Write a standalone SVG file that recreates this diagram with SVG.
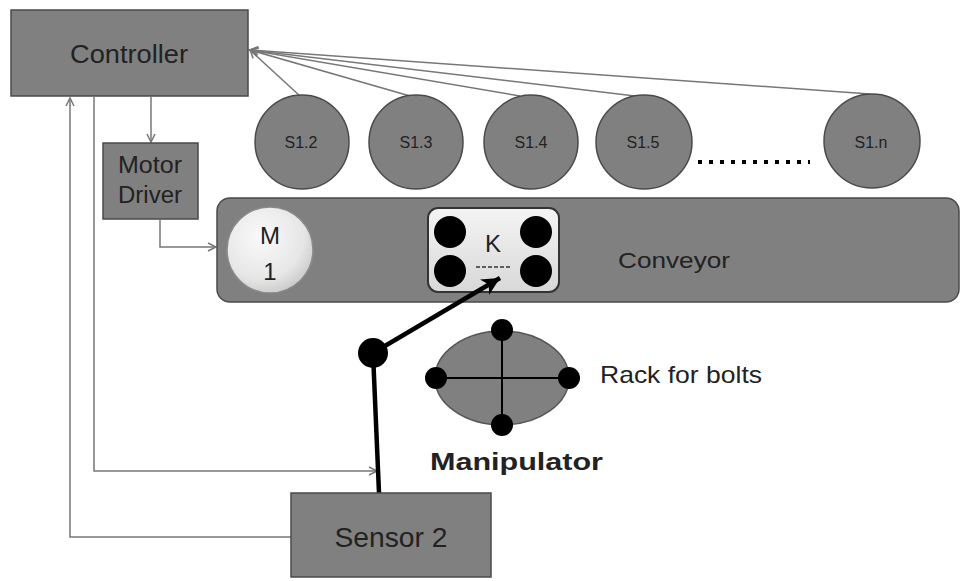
<svg xmlns="http://www.w3.org/2000/svg" width="961" height="581" viewBox="0 0 961 581">
<defs>
<marker id="open" markerWidth="12" markerHeight="12" refX="9" refY="5" orient="auto" markerUnits="userSpaceOnUse">
<path d="M1,1 L9,5 L1,9" fill="none" stroke="#777" stroke-width="1.5"/>
</marker>
<marker id="solid" markerWidth="22" markerHeight="20" refX="18" refY="9" orient="auto" markerUnits="userSpaceOnUse">
<path d="M0,0 L18,9 L0,18 L5,9 Z" fill="#000"/>
</marker>
<radialGradient id="mgrad" cx="0.4" cy="0.35" r="0.7">
<stop offset="0" stop-color="#fafafa"/>
<stop offset="0.7" stop-color="#e6e6e6"/>
<stop offset="1" stop-color="#c8c8c8"/>
</radialGradient>
<linearGradient id="kgrad" x1="0" y1="0" x2="0" y2="1">
<stop offset="0" stop-color="#f4f4f4"/>
<stop offset="1" stop-color="#d8d8d8"/>
</linearGradient>
</defs>
<style>
.box{fill:#808080;stroke:#4a4a4a;stroke-width:1.5}
.sen{fill:#808080;stroke:#4a4a4a;stroke-width:1.5}
.t{font-family:"Liberation Sans",Arial,sans-serif;fill:#222}
.conn{fill:none;stroke:#777;stroke-width:1.5}
.arm{fill:none;stroke:#000;stroke-width:4.5}
</style>
<rect width="961" height="581" fill="#fff"/>

<g id="connectors">
<path class="conn" d="M300,96 L250,50" marker-end="url(#open)"/>
<path class="conn" d="M410,96 L250,50" marker-end="url(#open)"/>
<path class="conn" d="M520,96 L250,50" marker-end="url(#open)"/>
<path class="conn" d="M635,96 L250,50" marker-end="url(#open)"/>
<path class="conn" d="M870,94 L250,50" marker-end="url(#open)"/>
<path class="conn" d="M151,97 L151,142" marker-end="url(#open)"/>
<path class="conn" d="M160,220 L160,247 L216,247" marker-end="url(#open)"/>
<path class="conn" d="M94,97 L94,471 L377,471" marker-end="url(#open)"/>
<path class="conn" d="M291,537 L70,537 L70,98" marker-end="url(#open)"/>
</g>

<g id="controller">
<rect class="box" x="11" y="10" width="237" height="86"/>
<text class="t" x="129" y="63" font-size="25" text-anchor="middle" textLength="118" lengthAdjust="spacingAndGlyphs">Controller</text>
</g>

<g id="motor-driver">
<rect class="box" x="103" y="143" width="95" height="76"/>
<text class="t" x="150" y="173" font-size="23" text-anchor="middle" textLength="64" lengthAdjust="spacingAndGlyphs">Motor</text>
<text class="t" x="150" y="203" font-size="23" text-anchor="middle" textLength="64" lengthAdjust="spacingAndGlyphs">Driver</text>
</g>

<g id="s1-2"><ellipse class="sen" cx="302" cy="142" rx="47" ry="47"/><text class="t" x="301" y="148" font-size="16" text-anchor="middle">S1.2</text></g>
<g id="s1-3"><ellipse class="sen" cx="416" cy="142" rx="47" ry="47"/><text class="t" x="416" y="148" font-size="16" text-anchor="middle">S1.3</text></g>
<g id="s1-4"><ellipse class="sen" cx="531" cy="142" rx="47" ry="47"/><text class="t" x="531" y="148" font-size="16" text-anchor="middle">S1.4</text></g>
<g id="s1-5"><ellipse class="sen" cx="644" cy="142" rx="48" ry="47"/><text class="t" x="643" y="148" font-size="16" text-anchor="middle">S1.5</text></g>
<g id="s1-n"><ellipse class="sen" cx="872" cy="141" rx="48" ry="47"/><text class="t" x="871" y="148" font-size="16" text-anchor="middle">S1.n</text></g>
<g id="ellipsis">
<line x1="698" y1="162" x2="810" y2="162" stroke="#000" stroke-width="4" stroke-dasharray="4,7"/>
</g>

<g id="conveyor">
<rect class="box" x="217" y="198" width="742" height="104" rx="13"/>
<text class="t" x="618" y="268" font-size="22" textLength="112" lengthAdjust="spacingAndGlyphs">Conveyor</text>
</g>

<g id="m1">
<circle cx="270" cy="250" r="43" fill="url(#mgrad)" stroke="#8a8a8a" stroke-width="1.5"/>
<text class="t" x="270" y="244" font-size="24" text-anchor="middle">M</text>
<text class="t" x="270" y="280" font-size="24" text-anchor="middle">1</text>
</g>

<g id="k">
<rect x="428" y="208" width="131" height="84" rx="10" fill="url(#kgrad)" stroke="#333" stroke-width="2"/>
<circle cx="450" cy="232" r="16" fill="#000"/>
<circle cx="536" cy="232" r="16" fill="#000"/>
<circle cx="450" cy="271" r="16" fill="#000"/>
<circle cx="536" cy="271" r="16" fill="#000"/>
<text class="t" x="493" y="252" font-size="24" text-anchor="middle">K</text>
<line x1="476" y1="267" x2="511" y2="267" stroke="#333" stroke-width="1.5" stroke-dasharray="4,2"/>
</g>

<g id="manipulator">
<path class="arm" d="M379,493 L373,353"/>
<path class="arm" d="M373,353 L500,278" marker-end="url(#solid)"/>
<circle cx="373" cy="353" r="15" fill="#000"/>
<text class="t" x="430" y="470" font-size="24" font-weight="bold" textLength="173" lengthAdjust="spacingAndGlyphs">Manipulator</text>
</g>

<g id="rack">
<ellipse cx="502" cy="378" rx="67" ry="47" fill="#808080" stroke="#555" stroke-width="1.5"/>
<line x1="435" y1="378" x2="570" y2="378" stroke="#000" stroke-width="2"/>
<line x1="502" y1="330" x2="502" y2="425" stroke="#000" stroke-width="2"/>
<circle cx="502" cy="330" r="11" fill="#000"/>
<circle cx="502" cy="425" r="11" fill="#000"/>
<circle cx="436" cy="378" r="11" fill="#000"/>
<circle cx="569" cy="378" r="11" fill="#000"/>
<text class="t" x="600" y="383" font-size="24" textLength="162" lengthAdjust="spacingAndGlyphs">Rack for bolts</text>
</g>

<g id="sensor2">
<rect class="box" x="291" y="493" width="200" height="84"/>
<text class="t" x="391" y="547" font-size="27" text-anchor="middle" textLength="113" lengthAdjust="spacingAndGlyphs">Sensor 2</text>
</g>
</svg>
